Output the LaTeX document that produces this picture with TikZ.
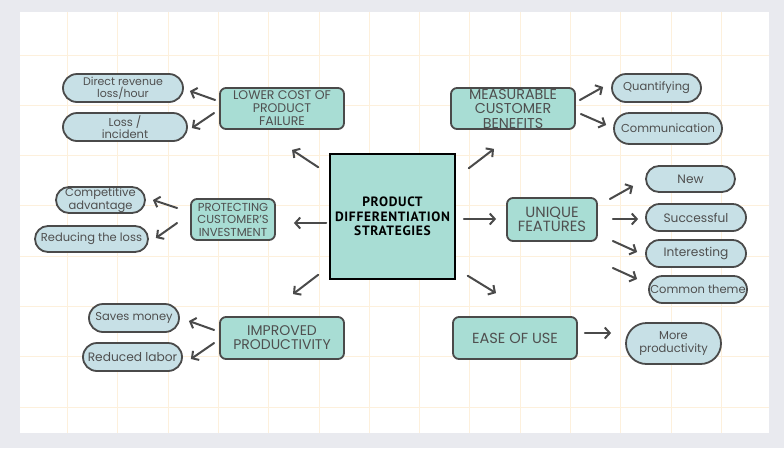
\documentclass[tikz,border=0pt]{standalone}
\usepackage{fontspec}
\setmainfont{Poppins}
\newfontfamily\hubfont[LetterSpace=5]{PT Sans}
\usetikzlibrary{arrows.meta,shapes.misc}

\definecolor{pagec}{HTML}{E9EAEF}
\definecolor{gridc}{HTML}{FDF0DC}
\definecolor{tealc}{HTML}{A8DDD4}
\definecolor{leafc}{HTML}{C7E0E6}
\definecolor{edgec}{HTML}{4A4A4A}
\definecolor{textc}{HTML}{4F4F4F}

\tikzset{
  gridline/.style={draw=gridc, line width=0.9pt},
  hub/.style={draw=black, line width=1.5pt, fill=tealc, minimum width=125, minimum height=125,
    align=center, inner sep=0pt, font=\hubfont\bfseries\fontsize{13.5}{14.7}\selectfont},
  topic/.style={draw=edgec, line width=1.8pt, fill=tealc, rounded corners=6pt, align=center,
    text=textc, inner sep=0pt, font=\fontsize{12.5}{13}\selectfont},
  leaf/.style={rounded rectangle, draw=edgec, line width=1.8pt, fill=leafc, align=center,
    text=textc, inner sep=0pt, font=\fontsize{11.5}{12.5}\selectfont},
  bigleaf/.style={leaf, font=\fontsize{12.2}{13}\selectfont},
  arr/.style={draw=edgec, line width=2pt, line cap=round,
    -{Straight Barb[length=5pt,width=11pt]}}
}

\begin{document}
\begin{tikzpicture}[x=1pt, y=-1pt]
	% page and canvas
	\fill[pagec] (0,0) rectangle (784,448);
	\useasboundingbox (0,0) rectangle (784,448);
	\fill[white] (20,12) rectangle (769,433);
	\foreach \i in {0,...,13}
		\draw[gridline] ({67.5+50.3*\i},12) -- ++(0,421);
	\foreach \j in {0,...,7}
		\draw[gridline] (20,{55+50.3*\j}) -- ++(749,0);

	% centre
	\node[hub] (ctr) at (392.5,216.5) {PRODUCT\\DIFFERENTIATION\\STRATEGIES};

	% topics
	\node[topic, minimum width=124, minimum height=41] (lower) at (282,108.5) {LOWER COST OF\\PRODUCT\\FAILURE};
	\node[topic, minimum width=84, minimum height=41, font=\fontsize{11.6}{12.5}\selectfont] (prot) at (233,219.5) {PROTECTING\\CUSTOMER'S\\INVESTMENT};
	\node[topic, minimum width=124, minimum height=42, font=\fontsize{14}{14}\selectfont] (impr) at (282,338) {IMPROVED\\PRODUCTIVITY};
	\node[topic, minimum width=124, minimum height=41, font=\fontsize{14.3}{14.5}\selectfont] (meas) at (513,108.5) {MEASURABLE\\CUSTOMER\\BENEFITS};
	\node[topic, minimum width=90, minimum height=43, font=\fontsize{14.8}{14}\selectfont] (uniq) at (552,219.5) {UNIQUE\\FEATURES};
	\node[topic, minimum width=124, minimum height=42, font=\fontsize{14.6}{14}\selectfont] (ease) at (515,338) {EASE OF USE};

	% leaves
	\node[leaf, minimum width=120, minimum height=28, font=\fontsize{11}{12.5}\selectfont] (drev) at (123,88) {Direct revenue\\loss/hour};
	\node[leaf, minimum width=124, minimum height=28] (lossi) at (125,127) {Loss /\\incident};
	\node[leaf, minimum width=89, minimum height=26] (comp) at (100.5,200) {Competitive\\advantage};
	\node[leaf, minimum width=113, minimum height=26] (redl) at (91.5,239) {Reducing the loss};
	\node[leaf, minimum width=90, minimum height=28] (saves) at (134,318) {Saves money};
	\node[bigleaf, minimum width=99, minimum height=28] (redlab) at (132.5,357) {Reduced labor};
	\node[leaf, minimum width=89, minimum height=28] (quant) at (656.5,88) {Quantifying};
	\node[leaf, minimum width=108, minimum height=31] (comm) at (668,128.5) {Communication};
	\node[bigleaf, minimum width=89, minimum height=26] (new) at (690.5,179) {New};
	\node[bigleaf, minimum width=100, minimum height=27] (succ) at (696,217.5) {Successful};
	\node[bigleaf, minimum width=100, minimum height=27] (inter) at (696,253.5) {Interesting};
	\node[leaf, minimum width=98, minimum height=27] (comth) at (698,289.5) {Common theme};
	\node[leaf, minimum width=95, minimum height=41] (morep) at (673.5,343.5) {More\\productivity};

	% arrows
	\draw[arr] ([shift={(-11,14)}]ctr.north west) -- ([shift={(10,20)}]lower.south);
	\draw[arr] ([shift={(-4,-8.5)}]lower.west) -- ([shift={(6,3)}]drev.east);
	\draw[arr] ([shift={(-5,4.5)}]lower.west) -- ([shift={(4,1)}]lossi.east);
	\draw[arr] ([shift={(-3,6.5)}]ctr.west) -- ([shift={(18,3.5)}]prot.east);
	\draw[arr] ([shift={(-13,-11.5)}]prot.west) -- ([shift={(7,0)}]comp.east);
	\draw[arr] ([shift={(-13,3.5)}]prot.west) -- ([shift={(7,-1)}]redl.east);
	\draw[arr] ([shift={(-11,-5)}]ctr.south west) -- ([shift={(11,-22)}]impr.north);
	\draw[arr] ([shift={(-5,-8)}]impr.west) -- ([shift={(9,3)}]saves.east);
	\draw[arr] ([shift={(-5,5)}]impr.west) -- ([shift={(8,2)}]redlab.east);
	\draw[arr] ([shift={(13,15)}]ctr.north east) -- ([shift={(-19,19)}]meas.south);
	\draw[arr] ([shift={(4,-8.5)}]meas.east) -- ([shift={(-8,-1)}]quant.west);
	\draw[arr] ([shift={(5,5.5)}]meas.east) -- ([shift={(-7,-3.5)}]comm.west);
	\draw[arr] ([shift={(8,2.5)}]ctr.east) -- ([shift={(-10,-0.5)}]uniq.west);
	\draw[arr] ([shift={(12,-20.5)}]uniq.east) -- ([shift={(-12,7)}]new.west);
	\draw[arr] ([shift={(15,-0.5)}]uniq.east) -- ([shift={(-7,1.5)}]succ.west);
	\draw[arr] ([shift={(15,21.5)}]uniq.east) -- ([shift={(-8,-1.5)}]inter.west);
	\draw[arr] ([shift={(15,48.5)}]uniq.east) -- ([shift={(-11,-10.5)}]comth.west);
	\draw[arr] ([shift={(12,-4)}]ctr.south east) -- ([shift={(-19,-23)}]ease.north);
	\draw[arr] ([shift={(7,-5)}]ease.east) -- ([shift={(-14,-10.5)}]morep.west);
\end{tikzpicture}
\end{document}
